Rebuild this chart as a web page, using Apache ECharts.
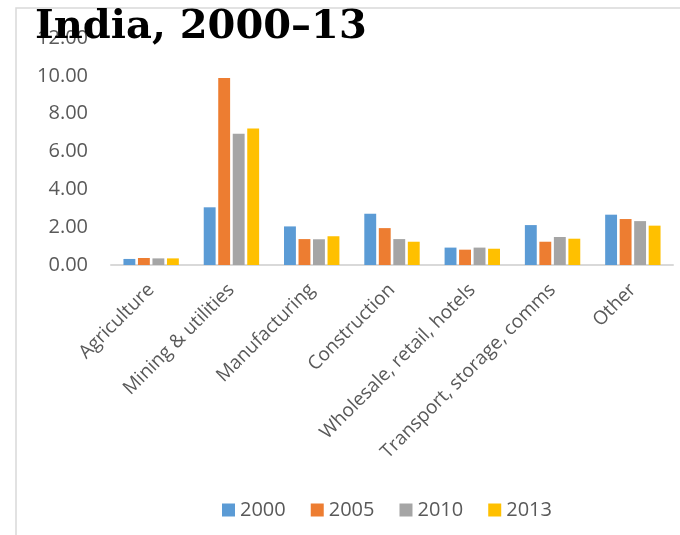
<!DOCTYPE html>
<html>
<head>
<meta charset="utf-8">
<title>India, 2000–13</title>
<script src="https://cdn.jsdelivr.net/npm/echarts@6/dist/echarts.min.js"></script>
<style>
  html, body { margin: 0; padding: 0; background: #fff; }
  #chart { width: 680px; height: 535px; }
</style>
</head>
<body>
<div id="chart"></div>
<script>
const categories = [
  "Agriculture",
  "Mining & utilities",
  "Manufacturing",
  "Construction",
  "Wholesale, retail, hotels",
  "Transport, storage, comms",
  "Other"
];
const years = ["2000", "2005", "2010", "2013"];
const values2000 = [0.32, 3.05, 2.04, 2.71, 0.92, 2.11, 2.66];
const values2005 = [0.37, 9.88, 1.37, 1.95, 0.81, 1.23, 2.43];
const values2010 = [0.35, 6.94, 1.36, 1.37, 0.92, 1.48, 2.32];
const values2013 = [0.35, 7.22, 1.52, 1.23, 0.86, 1.39, 2.08];
const colorList = ["#5B9BD5", "#ED7D31", "#A5A5A5", "#FFC000"];

const labelFont = "'Open Sans', sans-serif";
const allValues = [values2000, values2005, values2010, values2013];

const chart = echarts.init(document.getElementById("chart"));

chart.setOption({
  color: colorList,
  animation: false,
  title: {
    text: "India, 2000–13",
    left: 30,
    top: 3,
    textStyle: {
      fontFamily: "'DejaVu Serif', serif",
      fontWeight: "bold",
      fontSize: 40,
      lineHeight: 40,
      color: "#000"
    },
    z: 10
  },
  graphic: [{
    type: "rect",
    shape: { x: 16, y: 8, width: 700, height: 560 },
    style: { fill: "none", stroke: "#d9d9d9", lineWidth: 1.5 },
    silent: true
  }],
  legend: {
    data: years,
    left: 217,
    top: 495,
    itemWidth: 13,
    itemHeight: 13,
    itemGap: 25,
    icon: "rect",
    textStyle: {
      fontFamily: labelFont,
      fontSize: 20,
      color: "#595959"
    }
  },
  grid: {
    left: 111,
    right: 7,
    top: 38,
    bottom: 270
  },
  xAxis: {
    type: "category",
    data: categories,
    axisTick: { show: false },
    axisLine: {
      lineStyle: { color: "#d9d9d9", width: 2 }
    },
    axisLabel: {
      rotate: 45,
      interval: 0,
      margin: 22,
      fontFamily: labelFont,
      fontSize: 19,
      color: "#595959"
    }
  },
  yAxis: {
    type: "value",
    min: 0,
    max: 12,
    interval: 2,
    axisLine: { show: false },
    axisTick: { show: false },
    splitLine: { show: false },
    axisLabel: {
      margin: 23,
      fontFamily: labelFont,
      fontSize: 20,
      color: "#595959",
      formatter: function (v) { return v.toFixed(2); }
    }
  },
  series: years.map(function (y, i) {
    return {
      name: y,
      type: "bar",
      data: allValues[i],
      barGap: "22%",
      barCategoryGap: "31%"
    };
  })
});
</script>
</body>
</html>
